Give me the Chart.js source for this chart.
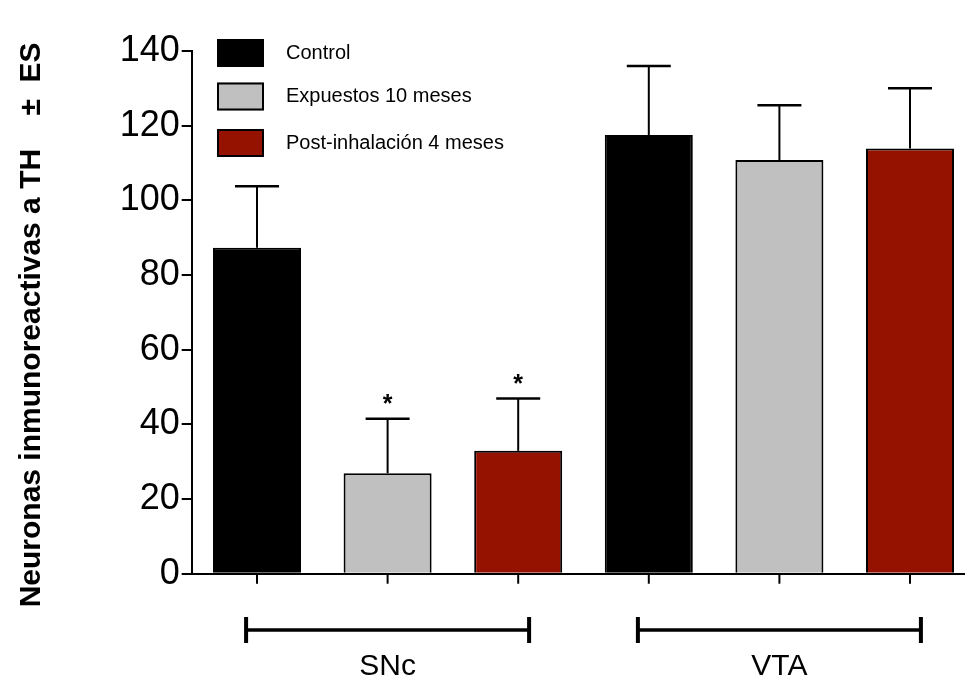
<!DOCTYPE html>
<html>
<head>
<meta charset="utf-8">
<script src="https://cdn.jsdelivr.net/npm/chart.js@4.4.1/dist/chart.umd.min.js"></script>
<style>
  html, body { margin: 0; padding: 0; background: #fff; overflow: hidden; }
  #wrap { width: 980px; height: 683px; }
</style>
</head>
<body>
<div id="wrap"><canvas id="chart" width="980" height="683"></canvas></div>
<script>
// data
const regions = ['SNc', 'VTA'];
const seriesNames = ['Control', 'Expuestos 10 meses', 'Post-inhalación 4 meses'];
const controlMeans = [87.3, 117.5];
const expuestosMeans = [26.9, 110.8];
const postMeans = [32.9, 113.9];
const controlErr = [16.5, 18.5];
const expuestosErr = [14.6, 14.7];
const postErr = [14.0, 16.1];
const controlSig = ['', ''];
const expuestosSig = ['*', ''];
const postSig = ['*', ''];
const yTicks = [0, 20, 40, 60, 80, 100, 120, 140];

const FONT = "'Liberation Sans', Arial, sans-serif";
const fills = ['#000000', '#c0c0c0', '#951200'];

const means = [controlMeans, expuestosMeans, postMeans];
const errs = [controlErr, expuestosErr, postErr];
const sigs = [controlSig, expuestosSig, postSig];

// error bars, asterisks, bar ticks, group brackets, legend
const extras = {
  id: 'extras',
  afterDatasetsDraw(chart) {
    const { ctx, scales: { x, y }, chartArea } = chart;
    ctx.save();
    ctx.strokeStyle = '#000';
    ctx.fillStyle = '#000';
    chart.data.datasets.forEach((ds, di) => {
      const meta = chart.getDatasetMeta(di);
      meta.data.forEach((bar, i) => {
        const top = y.getPixelForValue(means[di][i]);
        const errTop = y.getPixelForValue(means[di][i] + errs[di][i]);
        ctx.lineWidth = 2;
        ctx.beginPath();
        ctx.moveTo(bar.x, top);
        ctx.lineTo(bar.x, errTop);
        ctx.stroke();
        ctx.lineWidth = 2.5;
        ctx.beginPath();
        ctx.moveTo(bar.x - 22, errTop);
        ctx.lineTo(bar.x + 22, errTop);
        ctx.stroke();
        if (sigs[di][i]) {
          ctx.font = 'bold 25px ' + FONT;
          ctx.textAlign = 'center';
          ctx.textBaseline = 'alphabetic';
          ctx.fillText(sigs[di][i], bar.x, errTop - 7);
        }
        // small tick under each bar
        ctx.lineWidth = 2;
        ctx.beginPath();
        ctx.moveTo(bar.x, chartArea.bottom);
        ctx.lineTo(bar.x, chartArea.bottom + 10);
        ctx.stroke();
      });
    });
    // brackets under each region
    regions.forEach((r, i) => {
      const cx = x.getPixelForValue(i);
      ctx.lineWidth = 3.5;
      ctx.beginPath();
      ctx.moveTo(cx - 141.5, 630);
      ctx.lineTo(cx + 141.5, 630);
      ctx.stroke();
      ctx.lineWidth = 4;
      ctx.beginPath();
      ctx.moveTo(cx - 141.5, 617);
      ctx.lineTo(cx - 141.5, 643);
      ctx.moveTo(cx + 141.5, 617);
      ctx.lineTo(cx + 141.5, 643);
      ctx.stroke();
    });
    // legend
    ctx.font = '20px ' + FONT;
    ctx.textAlign = 'left';
    ctx.textBaseline = 'middle';
    const boxTops = [39, 82.5, 129];
    chart.data.datasets.forEach((ds, di) => {
      const by = boxTops[di];
      ctx.fillStyle = ds.backgroundColor;
      ctx.fillRect(217, by, 47, 28);
      ctx.lineWidth = 2;
      ctx.strokeRect(218, by + 1, 45, 26);
      ctx.fillStyle = '#000';
      ctx.fillText(ds.label, 286, by + 14);
    });
    ctx.restore();
  }
};

const datasets = seriesNames.map((name, di) => ({
  label: name,
  data: means[di],
  backgroundColor: fills[di],
  borderColor: '#000',
  borderWidth: 2,
  categoryPercentage: 1,
  barPercentage: 0.674
}));

new Chart(document.getElementById('chart'), {
  type: 'bar',
  data: { labels: regions, datasets },
  plugins: [extras],
  options: {
    responsive: false,
    animation: false,
    devicePixelRatio: 1,
    layout: { padding: { top: 51, right: 4.7, bottom: 0, left: 0 } },
    plugins: { legend: { display: false }, tooltip: { enabled: false } },
    scales: {
      x: {
        grid: { display: false, drawTicks: false },
        border: { display: true, color: '#000', width: 2 },
        ticks: { color: '#000', font: { family: FONT, size: 30 }, padding: 75, maxRotation: 0 },
        afterFit: s => { s.height = 109.3; }
      },
      y: {
        min: 0,
        max: 140,
        afterBuildTicks: s => { s.ticks = yTicks.map(v => ({ value: v })); },
        grid: { drawOnChartArea: false, color: '#000', lineWidth: 2, tickLength: 10 },
        border: { display: true, color: '#000', width: 2 },
        ticks: { color: '#000', font: { family: FONT, size: 36 }, padding: 2 },
        title: {
          display: true,
          text: 'Neuronas inmunoreactivas a TH    \u00b1  ES   ',
          color: '#000',
          font: { family: FONT, size: 30, weight: 'bold' },
          padding: { top: 14, bottom: 0 }
        },
        afterFit: s => { s.width = 191.7; }
      }
    }
  }
});
</script>
</body>
</html>
